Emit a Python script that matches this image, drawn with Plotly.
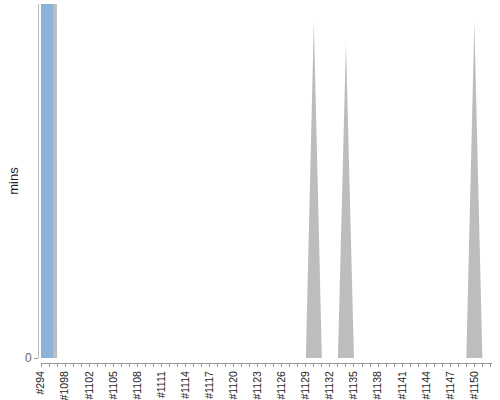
import plotly.graph_objects as go

# build numbers on the x axis (only every third one gets a label)
builds = ['#294', '#1096', '#1097', '#1098', '#1100', '#1101',
          '#1102', '#1103', '#1104', '#1105', '#1106', '#1107',
          '#1108', '#1109', '#1110', '#1111', '#1112', '#1113',
          '#1114', '#1115', '#1116', '#1117', '#1118', '#1119',
          '#1120', '#1121', '#1122', '#1123', '#1124', '#1125',
          '#1126', '#1127', '#1128', '#1129', '#1130', '#1131',
          '#1132', '#1133', '#1134', '#1135', '#1136', '#1137',
          '#1138', '#1139', '#1140', '#1141', '#1142', '#1143',
          '#1144', '#1145', '#1146', '#1147', '#1148', '#1149',
          '#1150', '#1151', '#1152']

# build duration in minutes (first two run far off the top of the scale)
durations = [60, 60, 0, 0, 0, 0,
             0, 0, 0, 0, 0, 0,
             0, 0, 0, 0, 0, 0,
             0, 0, 0, 0, 0, 0,
             0, 0, 0, 0, 0, 0,
             0, 0, 0, 0, 0.95, 0,
             0, 0, 0.89, 0, 0, 0,
             0, 0, 0, 0, 0, 0,
             0, 0, 0, 0, 0, 0,
             0.95, 0, 0]

# build result, decides the colour of the area
results = ['SUCCESS', 'SUCCESS'] + ['ABORTED'] * 55

BLUE = '#8FB2DA'
GREY = '#BDBDBD'


def main():
    xs = list(range(len(builds)))
    success = [d if r == 'SUCCESS' else 0 for d, r in zip(durations, results)]
    ticktext = [b if i % 3 == 0 else '' for i, b in enumerate(builds)]

    fig = go.Figure()
    fig.add_trace(go.Scatter(x=xs, y=durations, mode='lines',
                             fill='tozeroy', fillcolor=GREY,
                             line=dict(width=0, color=GREY),
                             hoverinfo='skip'))
    fig.add_trace(go.Scatter(x=xs, y=success, mode='lines',
                             fill='tozeroy', fillcolor=BLUE,
                             line=dict(width=0, color=BLUE, shape='hvh'),
                             hoverinfo='skip'))

    W, H = 500, 400
    l, r, t, b = 38, 8, 4, 37
    pw, ph = W - l - r, H - t - b

    fig.update_layout(
        width=W, height=H,
        margin=dict(l=l, r=r, t=t, b=b, autoexpand=False),
        showlegend=False,
        plot_bgcolor='white', paper_bgcolor='white',
        font=dict(family='Liberation Sans, Arial, sans-serif',
                  size=11, color='#222'),
        xaxis=dict(domain=[3 / pw, 1], anchor='free', position=0,
                   automargin=False,
                   range=[0, 56.2], tickmode='array',
                   tickvals=xs, ticktext=ticktext, tickangle=-90,
                   ticks='outside', ticklen=3, tickcolor='#999',
                   tickfont=dict(size=10.5),
                   showline=True, linecolor='#999', linewidth=1,
                   showgrid=False, zeroline=False),
        yaxis=dict(domain=[5 / ph, 1], anchor='free', position=0,
                   automargin=False,
                   range=[0, 1.0], tickmode='array', tickvals=[0],
                   ticktext=['0'], ticks='outside', ticklen=4,
                   tickcolor='#999', tickfont=dict(color='#666', size=12),
                   showline=True, linecolor='#bbb', linewidth=1,
                   showgrid=False, zeroline=False,
                   title=dict(text='mins', standoff=2,
                              font=dict(size=13, color='#222'))),
    )
    # drop the page's default body margin so the chart sits at the corner
    fig.write_html('out.html', config={'displayModeBar': False},
                   post_script="document.body.style.margin='0';")


if __name__ == '__main__':
    main()
